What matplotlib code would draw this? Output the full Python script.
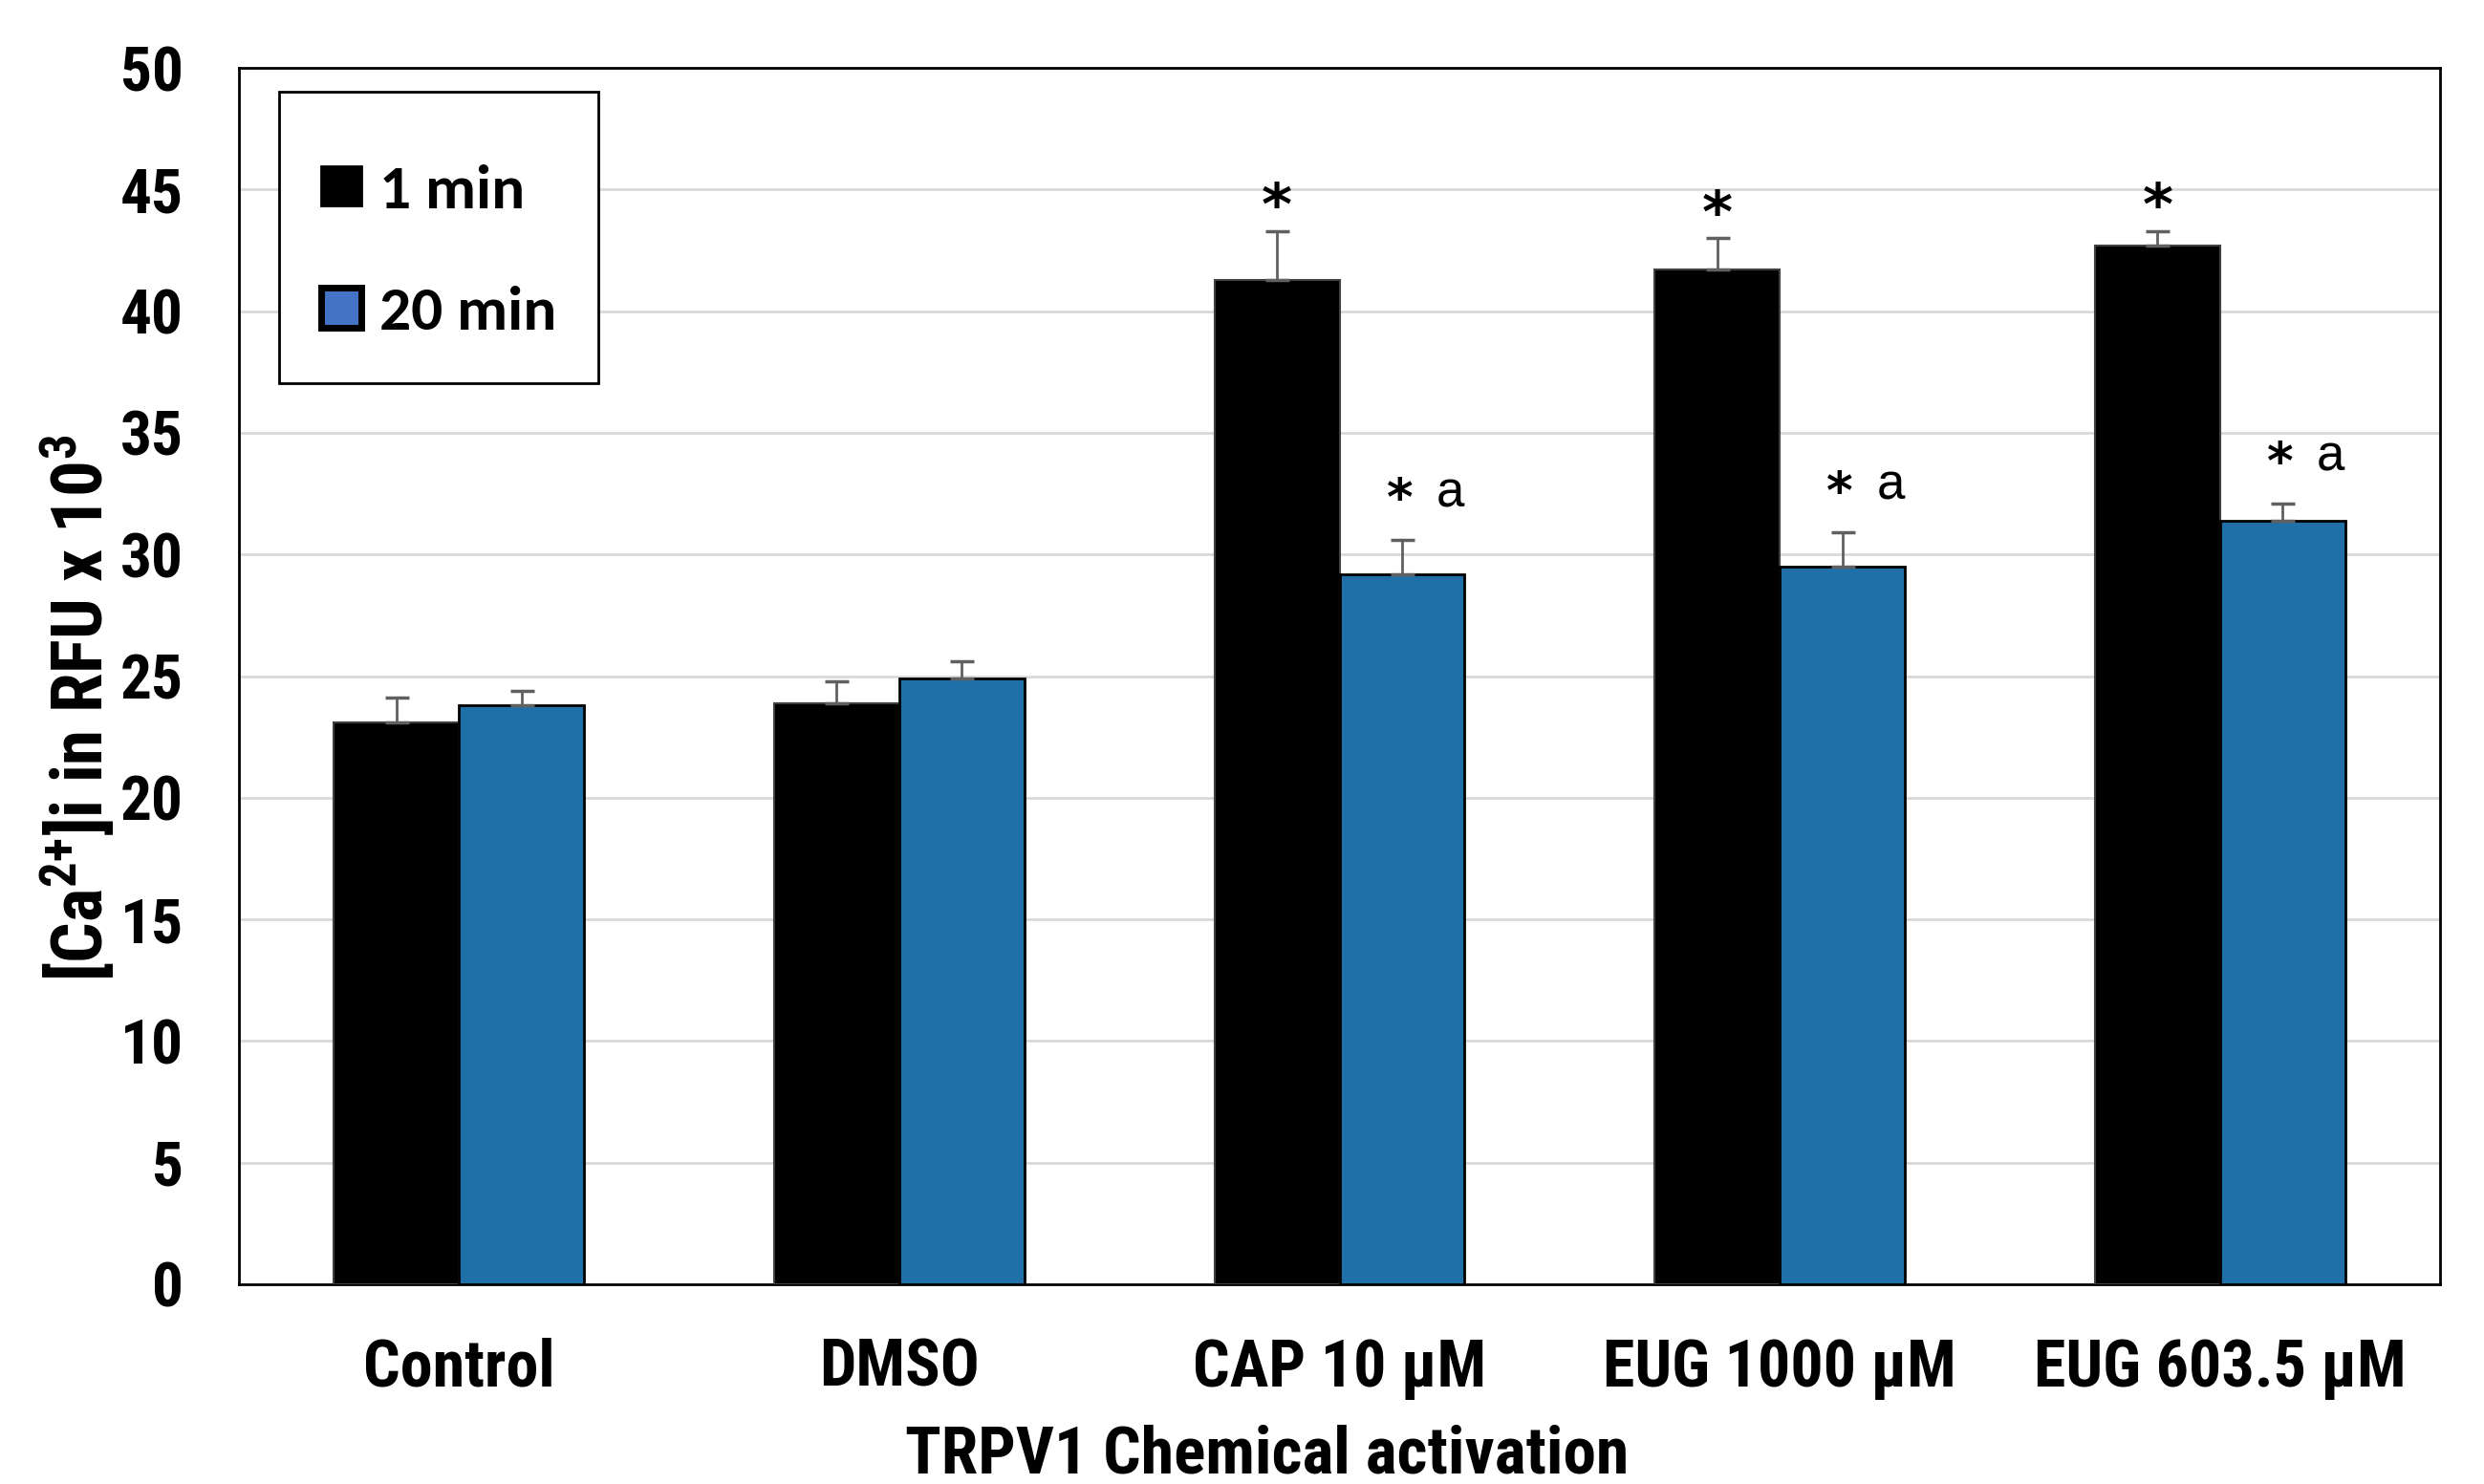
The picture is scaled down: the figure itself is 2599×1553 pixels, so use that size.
import numpy as np
import matplotlib.pyplot as plt
from matplotlib.patches import Patch, Rectangle
from matplotlib import font_manager as fm

# datos
grupos = ['Control', 'DMSO', 'CAP 10 µM', 'EUG 1000 µM', 'EUG 603.5 µM']
min1 = [23.1, 23.9, 41.3, 41.7, 42.7]
min1_err = [1.0, 0.9, 2.0, 1.3, 0.6]
min20 = [23.8, 24.9, 29.2, 29.5, 31.4]
min20_err = [0.6, 0.7, 1.4, 1.4, 0.7]
marca_1 = ['', '', '*', '*', '*']
marca_20 = ['', '', '*', '*', '*']
letra_20 = ['', '', 'a', 'a', 'a']
series = ['1 min', '20 min']

# buscamos una fuente estrecha en negrita (tipo Arial Narrow)
negritas = {f.name for f in fm.fontManager.ttflist if f.weight in (700, 'bold')}
todas = {f.name for f in fm.fontManager.ttflist}
candidatas = ['Liberation Sans Narrow', 'Arial Narrow', 'Archivo Narrow', 'Roboto Condensed',
              'PT Sans Narrow', 'Pragati Narrow', 'Liberation Sans']
estrecha = next((c for c in candidatas if c in negritas), None)
if estrecha is None:
    estrecha = next((c for c in candidatas if c in todas), 'DejaVu Sans')
# leyenda en Calibri (Carlito) si existe
if 'Carlito' in todas:
    fuente_leg, tam_leg = 'Carlito', 47
else:
    fuente_leg, tam_leg = 'Liberation Sans', 42

plt.rcParams['font.family'] = [estrecha, 'Liberation Sans', 'DejaVu Sans']
plt.rcParams['mathtext.fontset'] = 'custom'
plt.rcParams['mathtext.rm'] = estrecha
plt.rcParams['mathtext.bf'] = estrecha + ':bold'
plt.rcParams['mathtext.default'] = 'bf'

fig = plt.figure(figsize=(25.99, 15.53), dpi=100)
ax = fig.add_axes([250/2599, 1-1344/1553, 2303/2599, 1273/1553])

x = np.arange(len(grupos))
w = 0.284
ax.bar(x - w/2, min1, w, color='black', edgecolor='#404040', linewidth=1.5, zorder=3)
ax.bar(x + w/2, min20, w, color='#1f6fa8', edgecolor='black', linewidth=2, zorder=3)
ax.errorbar(x - w/2, min1, yerr=[np.zeros(5), min1_err], fmt='none', ecolor='#606060',
            elinewidth=2, capsize=9, capthick=2.5, zorder=4)
ax.errorbar(x + w/2, min20, yerr=[np.zeros(5), min20_err], fmt='none', ecolor='#606060',
            elinewidth=2, capsize=9, capthick=2.5, zorder=4)

# asteriscos y letras
for i in range(len(grupos)):
    if marca_1[i]:
        ax.text(x[i] - w/2, min1[i] + min1_err[i] + 0.9, marca_1[i], ha='center', va='center',
                fontsize=44, fontweight='bold', family='DejaVu Sans')
    if marca_20[i]:
        ax.text(x[i] + w/2 - 0.005, min20[i] + min20_err[i] + 1.6, marca_20[i], ha='center', va='center',
                fontsize=38, fontweight='bold', family='DejaVu Sans')
    if letra_20[i]:
        ax.text(x[i] + w/2 + 0.11, min20[i] + min20_err[i] + 1.9, letra_20[i], ha='center', va='center',
                fontsize=38, family='Liberation Sans')

ax.set_xlim(-0.5, 4.5)
ax.set_ylim(0, 50)
ax.set_yticks(np.arange(0, 51, 5))
ax.set_xticks(x)
ax.set_xticklabels(grupos, fontsize=49, fontweight='bold')
ax.tick_params(axis='y', labelsize=47, length=0, pad=42)
ax.tick_params(axis='x', length=0, pad=40)
for lab in ax.get_yticklabels():
    lab.set_fontweight('bold')
ax.grid(axis='y', color='#d9d9d9', linewidth=2, zorder=0)
for s in ax.spines.values():
    s.set_linewidth(2)
    s.set_color('black')

ax.set_xlabel('TRPV1 Chemical activation', fontsize=50, fontweight='bold')
ax.xaxis.set_label_coords(0.467, -0.115)
ax.set_ylabel('[Ca$^{2{+}}$]i in RFU x 10$^{3}$', fontsize=54, fontweight='bold')
ax.yaxis.set_label_coords(-0.055, 0.474)

# marco de la leyenda
ax.add_patch(Rectangle((0.0182, 0.741), 0.145, 0.239, transform=ax.transAxes,
                       facecolor='white', edgecolor='black', linewidth=2, zorder=5))
handles = [Patch(facecolor='black', edgecolor='black', linewidth=2),
           Patch(facecolor='#4472c4', edgecolor='black', linewidth=5)]
leg = ax.legend(handles, series, loc='upper left', bbox_to_anchor=(0.0373, 0.921),
                borderaxespad=0, borderpad=0, frameon=False,
                prop={'family': fuente_leg, 'weight': 'bold', 'size': tam_leg},
                handlelength=0.64, handleheight=0.6, handletextpad=0.3,
                labelspacing=1.08)
leg.set_zorder(6)

fig.savefig('out.png', dpi=100)
